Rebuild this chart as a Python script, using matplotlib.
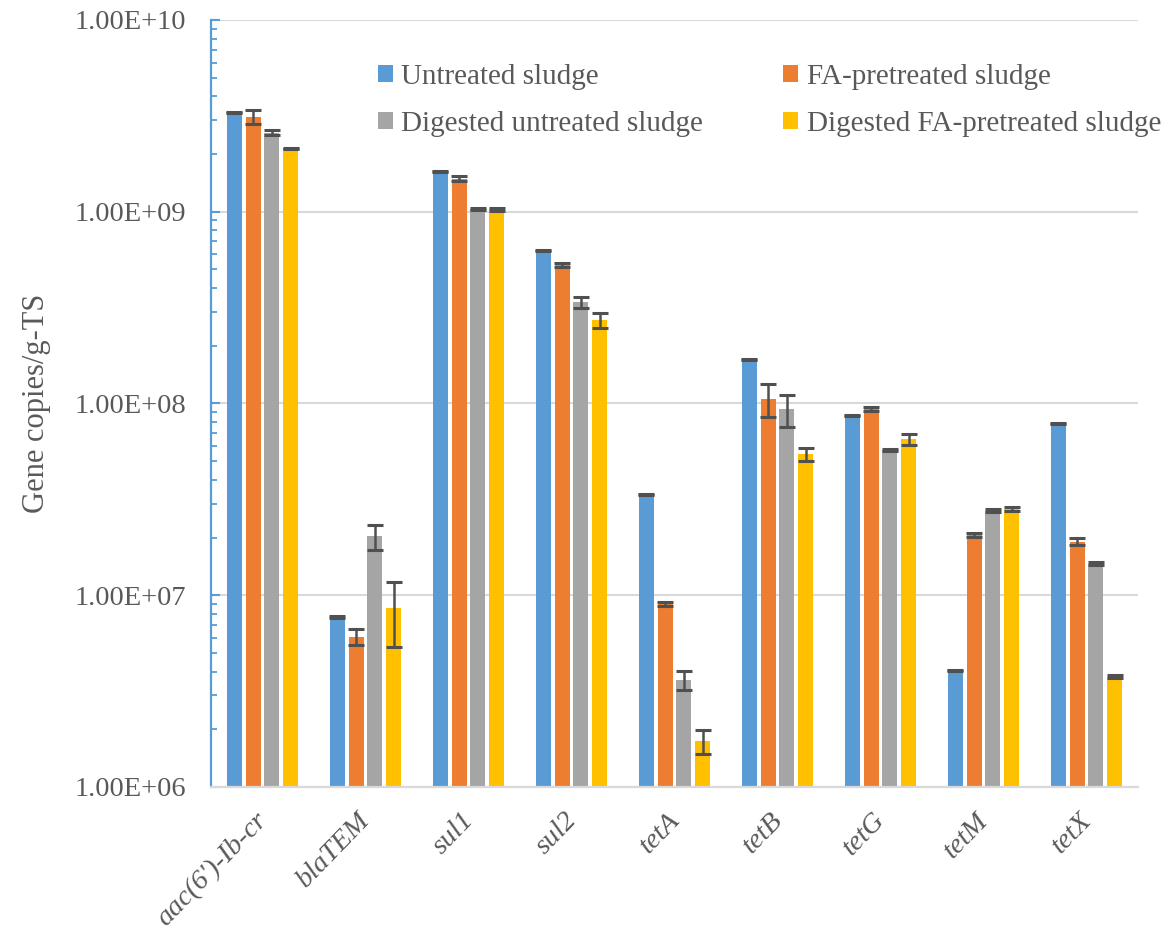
import numpy as np
import matplotlib
matplotlib.use("Agg")
import matplotlib.pyplot as plt
import matplotlib.transforms as mtransforms
from matplotlib.ticker import LogLocator, FuncFormatter, NullFormatter

plt.rcParams['font.family'] = ['Liberation Serif', 'DejaVu Serif']

genes = ["aac(6')-Ib-cr", "blaTEM", "sul1", "sul2", "tetA", "tetB", "tetG", "tetM", "tetX"]
series_names = ["Untreated sludge", "FA-pretreated sludge",
                "Digested untreated sludge", "Digested FA-pretreated sludge"]

untreated = [3.30e9, 7.7e6, 1.63e9, 6.30e8, 3.37e7, 1.70e8, 8.68e7, 4.04e6, 7.82e7]
untreated_err = [0.02e9, 0.05e6, 0.01e9, 0.05e8, 0.02e7, 0.01e8, 0.05e7, 0.03e6, 0.05e7]
fa_pre = [3.13e9, 6.08e6, 1.49e9, 5.27e8, 9.0e6, 1.06e8, 9.36e7, 2.07e7, 1.90e7]
fa_pre_err = [0.25e9, 0.55e6, 0.04e9, 0.15e8, 0.2e6, 2.05e7, 0.2e7, 0.05e7, 0.08e7]
dig_untreated = [2.58e9, 2.03e7, 1.03e9, 3.38e8, 3.61e6, 9.33e7, 5.72e7, 2.76e7, 1.46e7]
dig_untreated_err = [0.08e9, 0.3e7, 0.01e9, 0.23e8, 0.42e6, 1.8e7, 0.1e7, 0.05e7, 0.03e7]
dig_fa = [2.14e9, 8.55e6, 1.03e9, 2.72e8, 1.74e6, 5.43e7, 6.50e7, 2.81e7, 3.76e6]
dig_fa_err = [0.02e9, 3.2e6, 0.02e9, 0.25e8, 0.25e6, 0.42e7, 0.4e7, 0.06e7, 0.07e6]

values = [untreated, fa_pre, dig_untreated, dig_fa]
errors = [untreated_err, fa_pre_err, dig_untreated_err, dig_fa_err]
colors = ["#5B9BD5", "#ED7D31", "#A5A5A5", "#FFC000"]

text_col = "#595959"
fig = plt.figure(figsize=(11.76, 9.33), dpi=100)
ax = fig.add_axes([0.1794, 0.1565, 0.7883, 0.8221])

x = np.arange(len(genes))
step = 0.182
width = 0.145
bars = []
for i, (vals, errs, c) in enumerate(zip(values, errors, colors)):
    b = ax.bar(x + (i - 1.5) * step, vals, width, color=c, zorder=2,
               yerr=errs, error_kw=dict(ecolor="#505050", elinewidth=1.8,
                                        capsize=5.5, capthick=2.2, zorder=3))
    bars.append(b)

ax.set_yscale('log')
ax.set_ylim(1e6, 1e10)
ax.set_xlim(-0.5, len(genes) - 0.5)

ax.yaxis.set_major_locator(LogLocator(base=10, numticks=10))
ax.yaxis.set_minor_locator(LogLocator(base=10, subs=np.arange(2, 10), numticks=10))
ax.yaxis.set_minor_formatter(NullFormatter())
ax.yaxis.set_major_formatter(FuncFormatter(lambda v, p: "%.2fE+%02d" % (1.00, int(round(np.log10(v))))))
ax.tick_params(axis='y', which='major', direction='in', length=6.5, width=1.5,
               color="#5B9BD5", labelsize=20.5, labelcolor=text_col, pad=18)
ax.tick_params(axis='y', which='minor', direction='in', length=4.5, width=1.3,
               color="#5B9BD5")
ax.tick_params(axis='x', length=0, pad=15)

ax.set_xticks(x)
ax.set_xticklabels(genes, rotation=46, ha='right', rotation_mode='anchor',
                   fontstyle='italic', fontsize=20.5, color=text_col)
# nudge the rotated gene names a little to the left
shift = mtransforms.ScaledTranslation(-8 / 100, 0, fig.dpi_scale_trans)
for lbl in ax.get_xticklabels():
    lbl.set_transform(lbl.get_transform() + shift)

ax.grid(axis='y', which='major', color="#D9D9D9", linewidth=1.5, zorder=0)
ax.set_axisbelow(True)
for s in ['top', 'right']:
    ax.spines[s].set_visible(False)
ax.spines['left'].set_color("#5B9BD5")
ax.spines['left'].set_linewidth(1.6)
ax.spines['bottom'].set_color("#D9D9D9")
ax.spines['bottom'].set_linewidth(1.6)

ax.set_ylabel("Gene copies/g-TS", fontsize=22, color=text_col, labelpad=17)

# legend laid out column-major so rows read left to right
order = [0, 2, 1, 3]
leg = ax.legend([bars[k] for k in order], [series_names[k] for k in order],
                ncol=2, frameon=False, loc='upper left',
                bbox_to_anchor=(0.1675, 0.958), fontsize=21,
                handlelength=0.5, handleheight=0.5, handletextpad=0.3,
                columnspacing=2.75, labelspacing=0.72, borderaxespad=0)
for t in leg.get_texts():
    t.set_color(text_col)

fig.savefig("out.png", dpi=100)
